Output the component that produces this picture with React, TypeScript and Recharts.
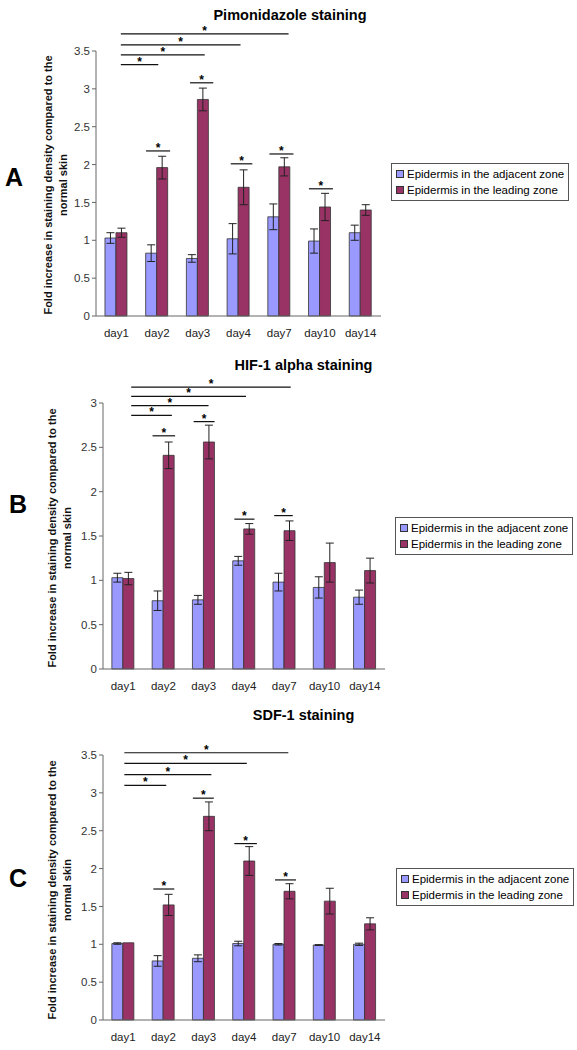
import React from 'react';
import { BarChart, Bar, XAxis, YAxis, ErrorBar, Legend, ReferenceLine } from 'recharts';

// categories and series names
const days = ['day1', 'day2', 'day3', 'day4', 'day7', 'day10', 'day14'];
const seriesNames = ['Epidermis in the adjacent zone', 'Epidermis in the leading zone'];
const yLabelLines = ['Fold increase in staining density compared to the', 'normal skin'];

// A - Pimonidazole
const pimoAdj = [1.03, 0.83, 0.76, 1.02, 1.31, 0.99, 1.1];
const pimoAdjErr = [0.07, 0.11, 0.05, 0.2, 0.17, 0.16, 0.1];
const pimoLead = [1.1, 1.96, 2.86, 1.7, 1.97, 1.44, 1.4];
const pimoLeadErr = [0.06, 0.15, 0.15, 0.23, 0.12, 0.18, 0.07];
const pimoTicks = [0, 0.5, 1, 1.5, 2, 2.5, 3, 3.5];
// significance brackets: [from, to, height] in category units / data units
const pimoSig = [
  [0.61, 4.73, 3.725], [0.61, 3.55, 3.58], [0.61, 2.67, 3.45], [0.61, 1.53, 3.32],
  [1.23, 1.82, 2.18], [2.31, 2.88, 3.08], [3.31, 3.84, 2.01], [4.26, 4.85, 2.14], [5.23, 5.82, 1.68],
];

// B - HIF-1 alpha
const hifAdj = [1.03, 0.77, 0.78, 1.22, 0.98, 0.92, 0.81];
const hifAdjErr = [0.05, 0.11, 0.05, 0.05, 0.1, 0.12, 0.08];
const hifLead = [1.02, 2.41, 2.56, 1.58, 1.56, 1.2, 1.11];
const hifLeadErr = [0.07, 0.15, 0.19, 0.06, 0.11, 0.22, 0.14];
const hifTicks = [0, 0.5, 1, 1.5, 2, 2.5, 3];
const hifSig = [
  [0.7, 4.66, 3.18], [0.7, 3.55, 3.075], [0.7, 2.62, 2.97], [0.7, 1.71, 2.86],
  [1.23, 1.79, 2.63], [2.25, 2.77, 2.79], [3.26, 3.76, 1.69], [4.25, 4.71, 1.73],
];

// C - SDF-1
const sdfAdj = [1.01, 0.78, 0.815, 1.01, 1.0, 0.99, 1.0];
const sdfAdjErr = [0.01, 0.07, 0.045, 0.03, 0.01, 0.005, 0.015];
const sdfLead = [1.02, 1.52, 2.69, 2.1, 1.7, 1.57, 1.27];
const sdfLeadErr = [0, 0.14, 0.19, 0.19, 0.1, 0.17, 0.08];
const sdfTicks = [0, 0.5, 1, 1.5, 2, 2.5, 3, 3.5];
const sdfSig = [
  [0.53, 4.6, 3.53], [0.53, 3.57, 3.39], [0.53, 2.69, 3.24], [0.53, 1.57, 3.1],
  [1.25, 1.77, 1.73], [2.23, 2.75, 2.93], [3.26, 3.82, 2.33], [4.27, 4.79, 1.85],
];

const FONT = '"Liberation Sans", Arial, sans-serif';
const BLUE = '#9999FF';
const RED = '#993366';
const AXIS = '#666';

function buildRows(adj: number[], adjErr: number[], lead: number[], leadErr: number[]) {
  return days.map((day, i) => ({
    day,
    pos: i + 0.5,
    adj: adj[i],
    adjErr: adjErr[i],
    lead: lead[i],
    leadErr: leadErr[i],
  }));
}

const LegendBox = ({ payload }: any) => (
  <div
    style={{
      border: '1px solid #555',
      padding: '2px 4px 2px 4px',
      background: '#fff',
      fontFamily: FONT,
      fontSize: 11.5,
      color: '#000',
    }}
  >
    {(payload || []).map((p: any) => (
      <div key={p.value} style={{ display: 'flex', alignItems: 'center', lineHeight: '16px', whiteSpace: 'nowrap' }}>
        <span
          style={{
            display: 'inline-block',
            width: 6,
            height: 6,
            background: p.color,
            border: '1px solid #333',
            marginRight: 3,
          }}
        />
        {p.value}
      </div>
    ))}
  </div>
);

type PanelProps = {
  top: number;
  height: number;
  plotTop: number;
  plotLeft: number;
  plotRight: number;
  ticks: number[];
  rows: any[];
  sig: number[][];
  legendTop: number;
  legendLeft: number;
};

function Panel({ top, height, plotTop, plotLeft, plotRight, ticks, rows, sig, legendTop, legendLeft }: PanelProps) {
  const yMax = ticks[ticks.length - 1];
  return (
    <div style={{ position: 'absolute', left: 0, top, width: 577, height }}>
      <BarChart
        width={577}
        height={height}
        data={rows}
        margin={{ top: plotTop, left: plotLeft - 30, right: 577 - plotRight, bottom: 0 }}
        barCategoryGap="22%"
        barGap={0}
      >
        <XAxis
          dataKey="day"
          tickLine={false}
          axisLine={{ stroke: AXIS }}
          height={24}
          tickMargin={7}
          tick={{ fontSize: 11.5, fill: '#222', fontFamily: FONT }}
          interval={0}
        />
        <XAxis xAxisId="n" dataKey="pos" type="number" domain={[0, days.length]} hide allowDataOverflow />
        <YAxis
          domain={[0, yMax]}
          ticks={ticks}
          width={30}
          tickSize={4}
          tickMargin={2}
          axisLine={{ stroke: AXIS }}
          tickLine={{ stroke: AXIS }}
          tick={{ fontSize: 11.5, fill: '#333', fontFamily: FONT }}
          interval={0}
        />
        <Bar dataKey="adj" name={seriesNames[0]} fill={BLUE} stroke="#333" strokeWidth={0.8} isAnimationActive={false}>
          <ErrorBar dataKey="adjErr" width={4} stroke="#222" strokeWidth={1} />
        </Bar>
        <Bar dataKey="lead" name={seriesNames[1]} fill={RED} stroke="#333" strokeWidth={0.8} isAnimationActive={false}>
          <ErrorBar dataKey="leadErr" width={4} stroke="#222" strokeWidth={1} />
        </Bar>
        {sig.map(([x1, x2, y], i) => (
          <ReferenceLine
            key={i}
            xAxisId="n"
            ifOverflow="visible"
            segment={[
              { x: x1, y },
              { x: x2, y },
            ]}
            stroke="#111"
            strokeWidth={1.2}
            label={{ value: '*', position: 'top', offset: -1, fill: '#000', fontSize: 12, fontWeight: 'bold', fontFamily: FONT }}
          />
        ))}
        <Legend
          layout="vertical"
          align="center"
          verticalAlign="middle"
          content={<LegendBox />}
          wrapperStyle={{ left: legendLeft, top: legendTop, width: 'auto' }}
        />
      </BarChart>
    </div>
  );
}

function YLabel({ cx, cy }: { cx: number; cy: number }) {
  return (
    <div
      style={{
        position: 'absolute',
        left: cx - 150,
        top: cy - 15,
        width: 300,
        height: 30,
        textAlign: 'center',
        fontFamily: FONT,
        fontWeight: 'bold',
        fontSize: 11,
        lineHeight: '15px',
        color: '#111',
        transform: 'rotate(-90deg)',
        transformOrigin: 'center center',
        whiteSpace: 'nowrap',
      }}
    >
      {yLabelLines.map((l) => (
        <div key={l}>{l}</div>
      ))}
    </div>
  );
}

function Title({ text, cx, cy }: { text: string; cx: number; cy: number }) {
  return (
    <div
      style={{
        position: 'absolute',
        left: cx - 150,
        top: cy - 9,
        width: 300,
        textAlign: 'center',
        fontFamily: FONT,
        fontWeight: 'bold',
        fontSize: 14.5,
        lineHeight: '18px',
        color: '#000',
      }}
    >
      {text}
    </div>
  );
}

function PanelLetter({ text, x, cy }: { text: string; x: number; cy: number }) {
  return (
    <div
      style={{
        position: 'absolute',
        left: x,
        top: cy - 14,
        fontFamily: FONT,
        fontWeight: 'bold',
        fontSize: 25,
        lineHeight: '28px',
        color: '#000',
      }}
    >
      {text}
    </div>
  );
}

export default function App() {
  return (
    <div style={{ position: 'absolute', left: 0, top: 0, width: 577, height: 1050, background: '#fff', overflow: 'hidden' }}>
      <Title text="Pimonidazole staining" cx={290} cy={15} />
      <Title text="HIF-1 alpha staining" cx={303.5} cy={365} />
      <Title text="SDF-1 staining" cx={303.5} cy={715} />

      <PanelLetter text="A" x={5} cy={177} />
      <PanelLetter text="B" x={9} cy={504} />
      <PanelLetter text="C" x={9} cy={878} />

      <Panel
        top={0}
        height={340}
        plotTop={51}
        plotLeft={96}
        plotRight={381}
        ticks={pimoTicks}
        rows={buildRows(pimoAdj, pimoAdjErr, pimoLead, pimoLeadErr)}
        sig={pimoSig}
        legendLeft={391}
        legendTop={163}
      />
      <Panel
        top={340}
        height={353}
        plotTop={63}
        plotLeft={103}
        plotRight={385}
        ticks={hifTicks}
        rows={buildRows(hifAdj, hifAdjErr, hifLead, hifLeadErr)}
        sig={hifSig}
        legendLeft={395}
        legendTop={177}
      />
      <Panel
        top={690}
        height={354}
        plotTop={65}
        plotLeft={103}
        plotRight={385}
        ticks={sdfTicks}
        rows={buildRows(sdfAdj, sdfAdjErr, sdfLead, sdfLeadErr)}
        sig={sdfSig}
        legendLeft={396}
        legendTop={178}
      />

      <YLabel cx={55.5} cy={185} />
      <YLabel cx={59.5} cy={538} />
      <YLabel cx={59.5} cy={890} />
    </div>
  );
}
